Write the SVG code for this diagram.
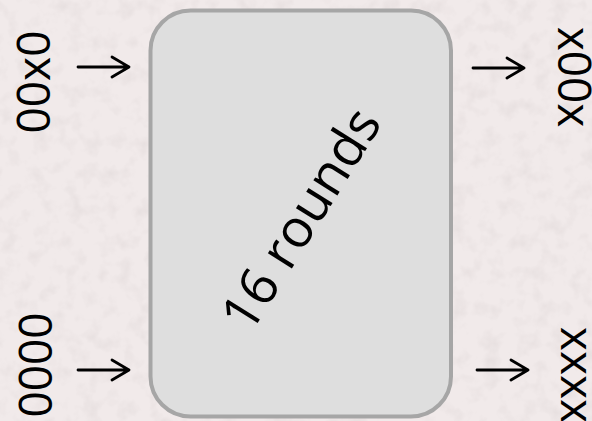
<svg xmlns="http://www.w3.org/2000/svg" width="592" height="421" viewBox="0 0 592 421">
  <defs>
    <filter id="paper" x="0" y="0" width="100%" height="100%">
      <feTurbulence type="fractalNoise" baseFrequency="0.06" numOctaves="3" seed="7" result="n"/>
      <feColorMatrix in="n" type="matrix" values="0 0 0 0 0.55  0 0 0 0 0.5  0 0 0 0 0.5  0 0 0 -1.4 0.75" result="spots"/>
      <feComposite in="spots" in2="SourceGraphic" operator="in"/>
    </filter>
    <style>
      .lbl { font-family: "Open Sans", "DejaVu Sans", sans-serif; font-size: 46px; fill: #000; text-anchor: middle; }
      .box { fill: #dedede; stroke: #a6a6a6; stroke-width: 4; }
      .arrow { fill: none; stroke: #000; stroke-width: 2.8; stroke-linecap: round; stroke-linejoin: round; }
    </style>
  </defs>

  <!-- paper background -->
  <rect width="592" height="421" fill="#f1eaea"/>
  <rect width="592" height="421" fill="#f1eaea" filter="url(#paper)" opacity="0.35"/>

  <!-- central processing block -->
  <g id="rounds">
    <rect class="box" x="150.5" y="10.5" width="300.5" height="406" rx="40" ry="40"/>
    <text class="lbl" style="font-size:53px" transform="translate(302,220) rotate(-58)" x="0" y="17">16 rounds</text>
  </g>

  <!-- input words -->
  <g id="in-top">
    <text class="lbl" transform="translate(50,82) rotate(-90)">00x0</text>
  </g>
  <g id="in-bottom">
    <text class="lbl" transform="translate(52,365) rotate(-90)">0000</text>
  </g>

  <!-- output words -->
  <g id="out-top">
    <text class="lbl" transform="translate(558,77) rotate(90)">x00x</text>
  </g>
  <g id="out-bottom">
    <text class="lbl" transform="translate(561,375) rotate(90)">xxxx</text>
  </g>

  <!-- arrows -->
  <g id="connectors">
    <path class="arrow" d="M78,67 H129 M112,57 L129,67 L112,77"/>
    <path class="arrow" d="M78,370 H129 M112,360 L129,370 L112,380"/>
    <path class="arrow" d="M473,68 H524 M507,58 L524,68 L507,78"/>
    <path class="arrow" d="M477,370 H528 M511,360 L528,370 L511,380"/>
  </g>
</svg>
